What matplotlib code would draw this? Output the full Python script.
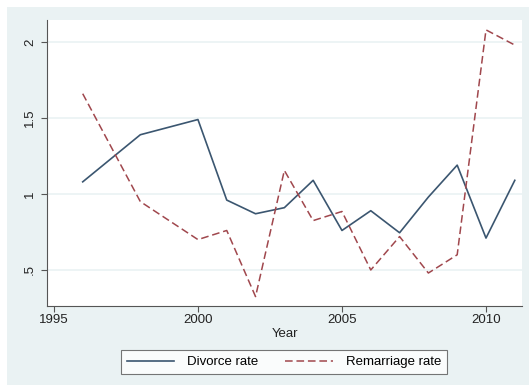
import matplotlib
matplotlib.use("Agg")
import matplotlib.pyplot as plt
from matplotlib.patches import Rectangle

# divorce and remarriage rates by year
years = [1996, 1998, 2000, 2001, 2002, 2003, 2004, 2005, 2006, 2007, 2008, 2009, 2010, 2011]
divorce_rate = [1.08, 1.39, 1.49, 0.96, 0.87, 0.91, 1.09, 0.76, 0.89, 0.745, 0.98, 1.19, 0.71, 1.09]
remarriage_rate = [1.66, 0.95, 0.70, 0.76, 0.325, 1.155, 0.825, 0.885, 0.50, 0.72, 0.48, 0.60, 2.08, 1.98]

xticks = [1995, 2000, 2005, 2010]
yticks = [0.5, 1, 1.5, 2]
ytick_labels = [".5", "1", "1.5", "2"]

bg = "#eaf2f3"
navy = "#3b5670"
maroon = "#a0474d"

plt.rcParams["font.family"] = ["Liberation Sans", "DejaVu Sans"]
plt.rcParams["font.size"] = 9.5

W, H = 529, 385
fig = plt.figure(figsize=(W / 100, H / 100), dpi=100)
fig.patch.set_facecolor("white")
fig.patches.append(Rectangle((7 / W, 0), 1 - 7 / W, 1 - 7 / H, transform=fig.transFigure,
                             facecolor=bg, edgecolor="none", zorder=-10))

ax = fig.add_axes([47 / W, 1 - 306 / H, (522 - 47) / W, (306 - 20) / H])
ax.set_facecolor("white")

ax.plot(years, divorce_rate, color=navy, lw=1.2, label="Divorce rate")
ax.plot(years, remarriage_rate, color=maroon, lw=1.1, dashes=(5, 2.5), label="Remarriage rate")

ax.set_xlim(1994.76, 2011.25)
ax.set_ylim(0.263, 2.145)
ax.set_xticks(xticks)
ax.set_yticks(yticks)
ax.set_yticklabels(ytick_labels, rotation=90, va="center")
ax.grid(axis="y", color=bg, lw=1.2)
ax.set_axisbelow(True)

for side in ["top", "right"]:
    ax.spines[side].set_visible(False)
for side in ["left", "bottom"]:
    ax.spines[side].set_color("#555555")
    ax.spines[side].set_linewidth(0.8)
ax.tick_params(colors="#555555", labelcolor="#222222", length=4, width=0.8, labelsize=9.5)
ax.tick_params(axis="x", pad=2)
ax.tick_params(axis="y", pad=4)

ax.set_xlabel("Year", fontsize=9.5, color="#222222", labelpad=1)

leg = fig.legend(loc="center", bbox_to_anchor=(284 / W, 1 - 362 / H), ncol=2,
                 frameon=True, fancybox=False, fontsize=9.5, handlelength=3.6,
                 handletextpad=1.0, columnspacing=2.0, borderpad=0.45)
leg.get_frame().set_edgecolor("#555555")
leg.get_frame().set_linewidth(0.8)
leg.get_frame().set_facecolor("white")

fig.savefig("out.png", dpi=100)
